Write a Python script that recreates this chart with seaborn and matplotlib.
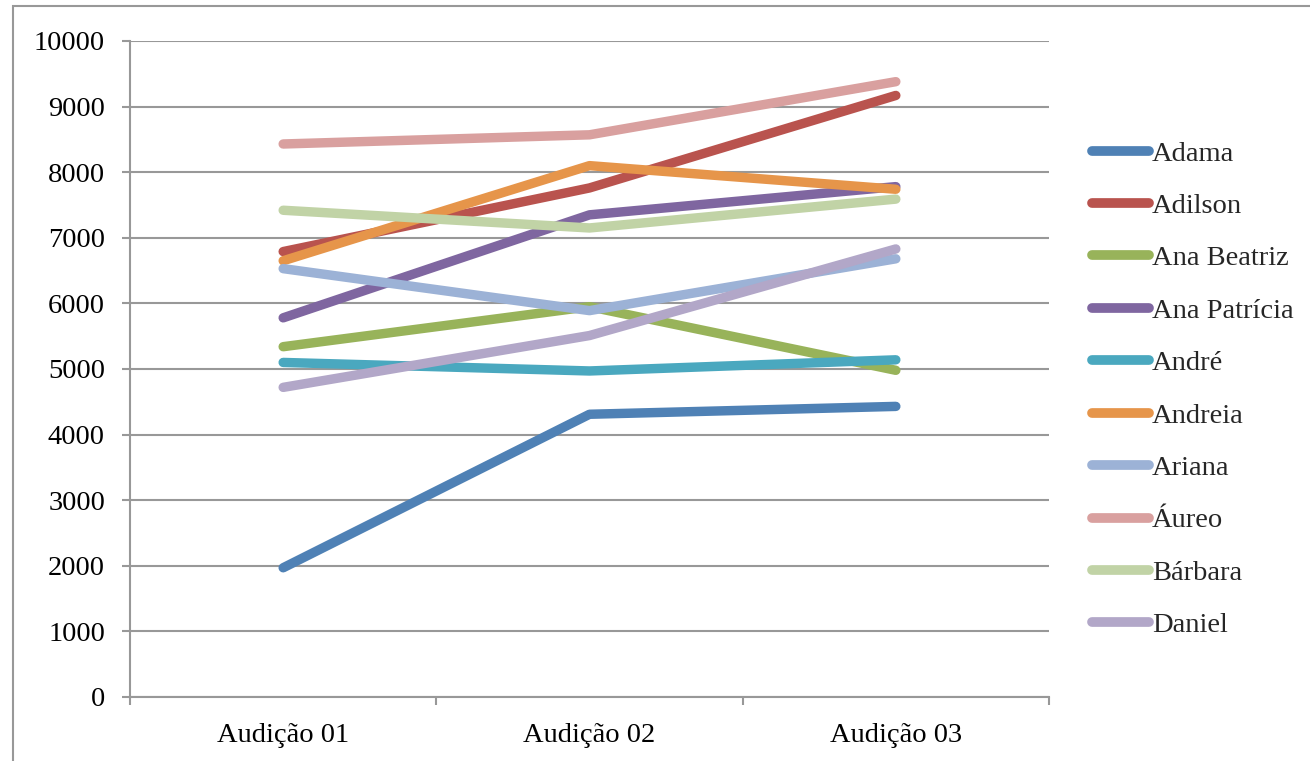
import matplotlib
matplotlib.use("Agg")
import matplotlib.pyplot as plt
from matplotlib.patches import Rectangle
from matplotlib.ticker import FixedLocator
import seaborn as sns
import pandas as pd

# Scores per student across the three auditions
audicoes = ["Audição 01", "Audição 02", "Audição 03"]
alunos = ["Adama", "Adilson", "Ana Beatriz", "Ana Patrícia", "André",
          "Andreia", "Ariana", "Áureo", "Bárbara", "Daniel"]
adama = [1970, 4310, 4430]
adilson = [6790, 7760, 9170]
ana_beatriz = [5340, 5950, 4980]
ana_patricia = [5780, 7350, 7780]
andre = [5100, 4970, 5140]
andreia = [6650, 8100, 7740]
ariana = [6530, 5890, 6680]
aureo = [8430, 8570, 9380]
barbara = [7420, 7150, 7590]
daniel = [4720, 5510, 6830]

cores = ["#4F81B5", "#B9534E", "#98B35A", "#7F66A0", "#4AA8BF",
         "#E6954A", "#9CB2D6", "#D9A09F", "#C1D3A6", "#B2A7C8"]

series = [adama, adilson, ana_beatriz, ana_patricia, andre,
          andreia, ariana, aureo, barbara, daniel]
rows = []
for nome, vals in zip(alunos, series):
    for i, v in enumerate(vals):
        rows.append({"aluno": nome, "pos": i, "audicao": audicoes[i], "nota": v})
df = pd.DataFrame(rows)

sns.set_theme(style="white")
plt.rcParams["font.family"] = ["Liberation Serif", "DejaVu Serif"]

W, H = 1310, 761
fig = plt.figure(figsize=(W / 100, H / 100), dpi=100)
ax = fig.add_axes([130 / W, 1 - 697 / H, (1049 - 130) / W, (697 - 41) / H])

gray = "#989898"
sns.lineplot(data=df, x="pos", y="nota", hue="aluno", hue_order=alunos,
             palette=dict(zip(alunos, cores)), sort=False, linewidth=6.8,
             solid_capstyle="round", solid_joinstyle="round", ax=ax,
             legend=False, zorder=3)

ax.set_xlim(-0.5, 2.5)
ax.set_ylim(0, 10000)
ax.set_yticks(range(0, 10001, 1000))
ax.set_xticks([0, 1, 2])
ax.set_xticklabels(audicoes)
ax.xaxis.set_minor_locator(FixedLocator([-0.5, 0.5, 1.5, 2.5]))
ax.set_xlabel("")
ax.set_ylabel("")
ax.yaxis.grid(True, color=gray, linewidth=1.5)
ax.xaxis.grid(False)
ax.set_axisbelow(True)

for s in ["top", "right"]:
    ax.spines[s].set_visible(False)
for s in ["left", "bottom"]:
    ax.spines[s].set_color(gray)
    ax.spines[s].set_linewidth(1.5)

ax.tick_params(axis="y", which="major", length=6, width=1.5, color=gray,
               direction="out", left=True, pad=12, labelsize=20.5, labelcolor="black")
ax.tick_params(axis="x", which="major", length=0, pad=19, labelsize=20.5,
               labelcolor="black")
ax.tick_params(axis="x", which="minor", length=6, width=1.5, color=gray,
               direction="out", bottom=True)

# Legend
handles = [plt.Line2D([], [], color=c, linewidth=7, solid_capstyle="round")
           for c in cores]
fig.legend(handles, alunos, loc="center left",
           bbox_to_anchor=(1092 / W, 1 - 389.5 / H), frameon=False,
           fontsize=20.5, handlelength=2.0, handletextpad=0.1,
           labelspacing=0.93, borderpad=0, borderaxespad=0)

# Outer chart frame
fig.patches.append(Rectangle((13 / W, -0.05), 1.1, 1.05 - 6 / H,
                             transform=fig.transFigure, fill=False,
                             edgecolor=gray, linewidth=1.5, zorder=0))

fig.savefig("out.png", dpi=100)
